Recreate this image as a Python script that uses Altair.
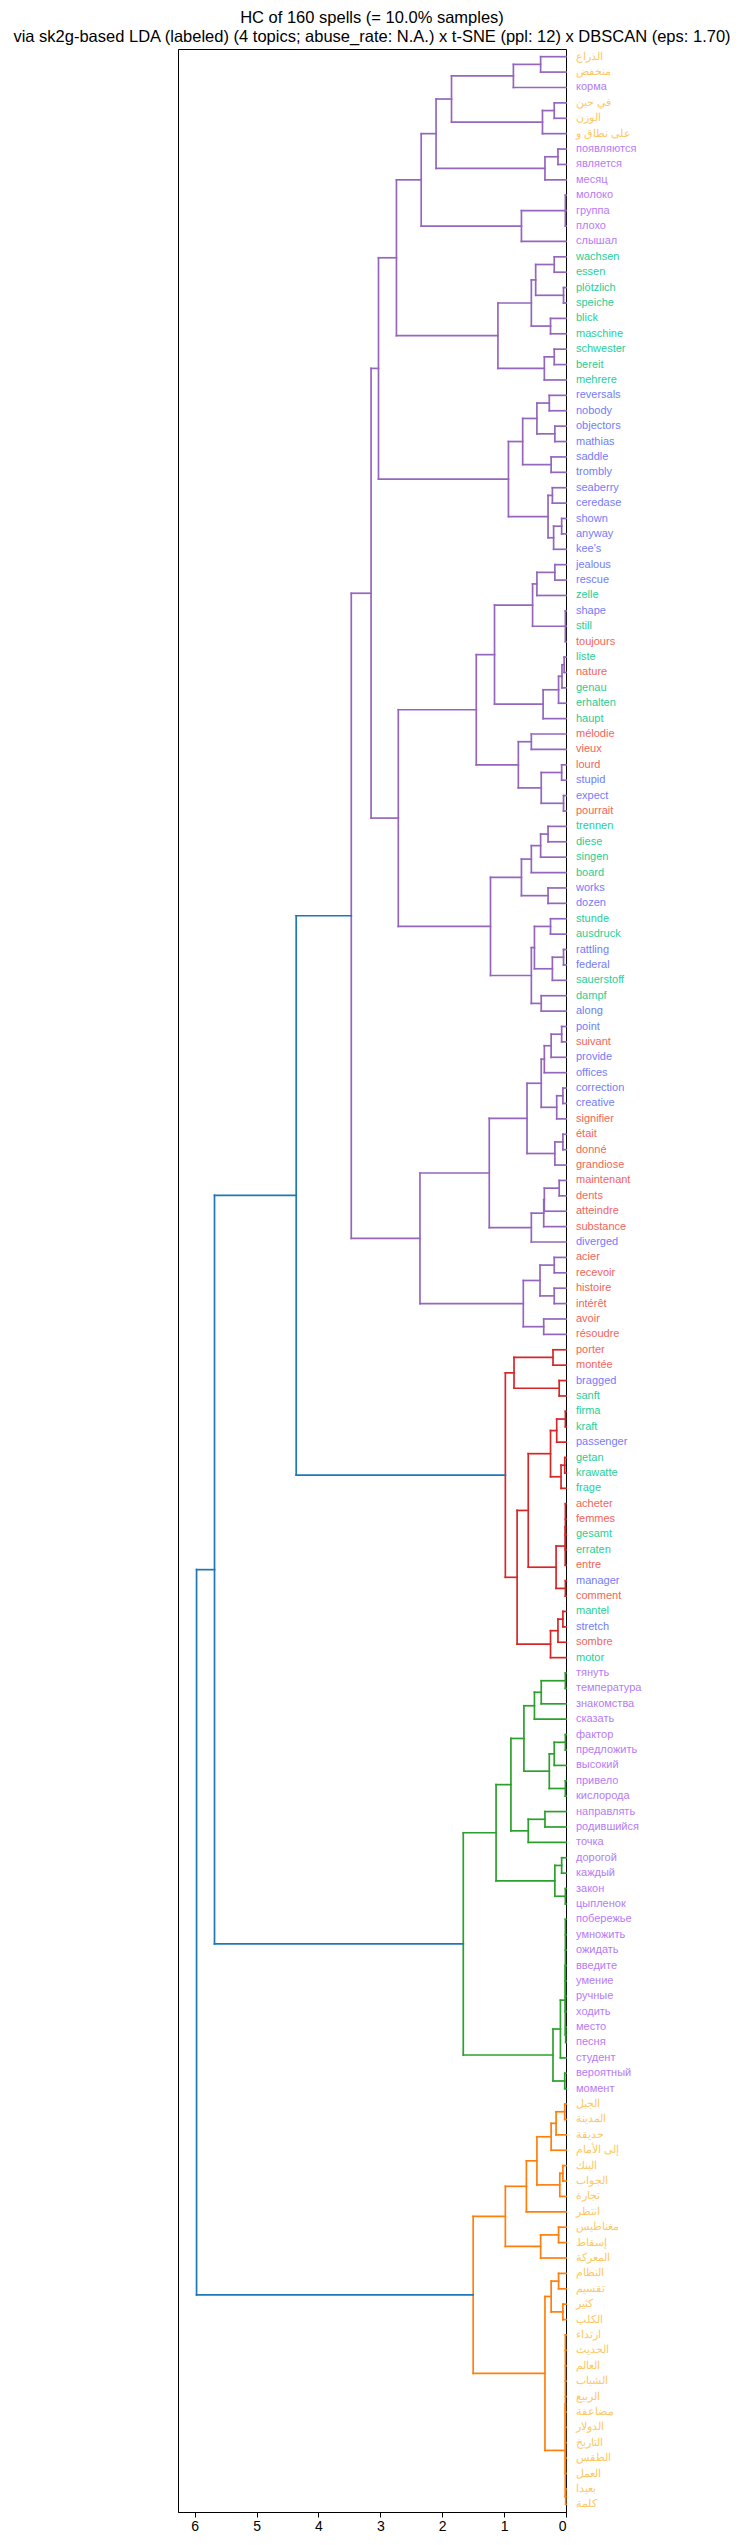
import altair as alt
import pandas as pd

TITLE = ["HC of 160 spells (= 10.0% samples)",
         "via sk2g-based LDA (labeled) (4 topics; abuse_rate: N.A.) x t-SNE (ppl: 12) x DBSCAN (eps: 1.70)"]

# leaf labels, top to bottom
LABELS = [
    "الذراع", "منخفض", "корма", "في حين", "الوزن", "على نطاق و",
    "появляются", "является", "месяц", "молоко", "группа", "плохо", "слышал",
    "wachsen", "essen", "plötzlich", "speiche", "blick", "maschine", "schwester", "bereit", "mehrere",
    "reversals", "nobody", "objectors", "mathias", "saddle", "trombly", "seaberry", "ceredase", "shown", "anyway", "kee's",
    "jealous", "rescue", "zelle", "shape", "still", "toujours", "liste", "nature", "genau", "erhalten", "haupt",
    "mélodie", "vieux", "lourd", "stupid", "expect", "pourrait",
    "trennen", "diese", "singen", "board", "works", "dozen", "stunde", "ausdruck", "rattling", "federal", "sauerstoff", "dampf", "along",
    "point", "suivant", "provide", "offices", "correction", "creative", "signifier", "était", "donné", "grandiose",
    "maintenant", "dents", "atteindre", "substance", "diverged",
    "acier", "recevoir", "histoire", "intérêt", "avoir", "résoudre",
    "porter", "montée", "bragged", "sanft", "firma", "kraft", "passenger", "getan", "krawatte", "frage",
    "acheter", "femmes", "gesamt", "erraten", "entre", "manager", "comment", "mantel", "stretch", "sombre", "motor",
    "тянуть", "температура", "знакомства", "сказать", "фактор", "предложить", "высокий", "привело", "кислорода",
    "направлять", "родившийся", "точка", "дорогой", "каждый", "закон", "цыпленок",
    "побережье", "умножить", "ожидать", "введите", "умение", "ручные", "ходить", "место", "песня", "студент", "вероятный", "момент",
    "الجبل", "المدينة", "حديقة", "إلى الأمام", "البنك", "الجواب", "تجارة", "انتظر", "مغناطيس", "إسقاط", "المعركة",
    "النظام", "تقسيم", "كثير", "الكلب", "ارتداء", "الحديث", "العالم", "الشباب", "الربيع", "مضاعفة", "الدولار", "التاريخ", "الطقس", "العمل", "بعيدا", "كلمة",
]

LANGS = (["ar", "ar", "ru", "ar", "ar", "ar"] + ["ru"] * 7 + ["de"] * 9 + ["en"] * 11
         + ["en", "en", "de", "en", "de", "fr", "de", "fr", "de", "de", "de"]
         + ["fr", "fr", "fr", "en", "en", "fr"]
         + ["de", "de", "de", "de", "en", "en", "de", "de", "en", "en", "de", "de", "en"]
         + ["en", "fr", "en", "en", "en", "en", "fr", "fr", "fr", "fr"]
         + ["fr", "fr", "fr", "fr", "en"]
         + ["fr"] * 6
         + ["fr", "fr", "en", "de", "de", "de", "en", "de", "de", "de"]
         + ["fr", "fr", "de", "de", "fr", "en", "fr", "de", "en", "fr", "de"]
         + ["ru"] * 28 + ["ar"] * 27)

LANG_COLORS = {"ar": "#fdc864", "ru": "#b57bf7", "de": "#1fcf98", "en": "#737cfa", "fr": "#f4645a"}

# cluster colours (matplotlib tab10) by first leaf index
CLUSTER_STARTS = [0, 84, 105, 133]
CLUSTER_COLORS = ["#9467bd", "#d62728", "#2ca02c", "#ff7f0e"]
ABOVE_COLOR = "#1f77b4"
THRESHOLD = 4.0

# tree: [merge distance, child, child, ...]; integers are leaf indices (top to bottom)
P1 = [1.85, [0.85, [0.41, 0, 1], 2], [0.38, [0.19, 3, 4], 5]]
P2 = [2.10, P1, [0.34, [0.13, 6, 7], 8]]
P3 = [2.34, P2, [0.72, [0.01, 9, 10, 11], 12]]
G = [1.10, [0.56, [0.49, [0.19, 13, 14], [0.04, 15, 16]], [0.25, 17, 18]], [0.35, [0.19, 19, 20], 21]]
P4 = [2.74, P3, G]
E = [0.93, [0.70, [0.47, [0.27, 22, 23], [0.18, 24, 25]], [0.24, 26, 27]],
     [0.29, [0.22, 28, 29], [0.20, [0.07, 30, 31], 32]]]
P5 = [3.03, P4, E]
I = [1.45, [1.155, [0.54, [0.47, [0.18, 33, 34], 35], [0.01, 36, 37, 38]],
            [0.37, [0.12, [0.065, [0.03, 39, 40], 41], 42], 43]],
     [0.77, [0.56, 44, 45], [0.40, [0.07, 46, 47], [0.04, 48, 49]]]]
J = [1.22, [0.72, [0.56, [0.41, [0.29, 50, 51], 52], 53], [0.29, 54, 55]],
     [0.56, [0.51, [0.25, 56, 57], [0.22, [0.04, 58, 59], 60]], [0.40, 61, 62]]]
P6 = [2.71, I, J]
P7 = [3.15, P5, P6]
K = [1.24, [0.63, [0.40, [0.35, [0.24, [0.07, 63, 64], 65], 66], [0.15, [0.05, 67, 68], 69]],
            [0.18, [0.05, 70, 71], 72]],
     [0.56, [0.36, [0.35, [0.11, 73, 74], 75], 76], 77]]
L = [0.69, [0.42, [0.19, 78, 79], [0.19, 80, 81]], [0.36, 82, 83]]
PURPLE = [3.47, P7, [2.36, K, L]]

RED = [0.98, [0.84, [0.21, 84, 85], [0.11, 86, 87]],
       [0.79, [0.61, [0.25, [0.15, [0.01, 88, 89], 90], [0.08, [0.02, 91, 92], 93]],
               [0.16, [0.012, [0.01, 94, 95, 96, 97], 98], [0.01, 99, 100]]],
        [0.25, [0.13, [0.05, 101, 102], 103], 104]]]

GREEN = [1.66,
         [1.13, [0.89, [0.68, [0.51, [0.40, [0.01, 105, 106], 107], 108],
                        [0.27, [0.19, [0.01, 109, 110], 111], [0.01, 112, 113]]],
                 [0.61, [0.34, 114, 115], 116]],
          [0.18, [0.07, 117, 118], [0.01, 119, 120]]],
         [0.21, [0.09, [0.012, [0.01, 121, 122, 123, 124, 125, 126, 127], [0.005, 128, 129]], 130],
          [0.02, 131, 132]]]

ORANGE = [1.50,
          [0.98, [0.64, [0.47, [0.24, [0.16, [0.02, 133, 134], 135], 136], [0.10, [0.05, 137, 138], 139]], 140],
           [0.41, [0.12, 141, 142], 143]],
          [0.34, [0.24, [0.12, 144, 145], [0.05, 146, 147]],
           [0.012, [0.01, 148, 149, 150, 151, 152, 153, 154, 155, 156, 157], [0.005, 158, 159]]]]

ROOT = [5.97, [5.68, [4.36, PURPLE, RED], GREEN], ORANGE]

XMAX = 6.27
YMAX = 10 * len(LABELS)
X_TICKS = [0, 1, 2, 3, 4, 5, 6]


def cluster_color(leaf):
    col = CLUSTER_COLORS[0]
    for s, c in zip(CLUSTER_STARTS, CLUSTER_COLORS):
        if leaf >= s:
            col = c
    return col


rows = []


def build(node):
    if isinstance(node, int):
        return 5 + 10 * node, 0.0, node
    h = node[0]
    kids = [build(c) for c in node[1:]]
    first = kids[0][2]
    color = ABOVE_COLOR if h > THRESHOLD else cluster_color(first)
    ys = [k[0] for k in kids]
    rows.append({"x": h, "x2": h, "y": min(ys), "y2": max(ys), "c": color})
    for ky, kh, _ in kids:
        rows.append({"x": kh, "x2": h, "y": ky, "y2": ky, "c": color})
    return sum(ys) / len(ys), h, first


build(ROOT)
seg = pd.DataFrame(rows)

leaf = pd.DataFrame({
    "y": [5 + 10 * i for i in range(len(LABELS))],
    "label": LABELS,
    "color": [LANG_COLORS[l] for l in LANGS],
    "x": [0.0] * len(LABELS),
})

xs = alt.Scale(domain=[0, XMAX], reverse=True, nice=False, zero=False)
ys = alt.Scale(domain=[0, YMAX], reverse=True, nice=False, zero=False)

x_axis = alt.Axis(values=X_TICKS, format="d", title=None, grid=False,
                  tickSize=5, tickColor="black", tickWidth=1, domainColor="black", domainWidth=1,
                  labelFontSize=14, labelColor="black", labelPadding=2,
                  labelFont="Liberation Sans")

rules = alt.Chart(seg).mark_rule(strokeWidth=1.7, strokeCap="square").encode(
    x=alt.X("x:Q", scale=xs, axis=x_axis),
    x2="x2:Q",
    y=alt.Y("y:Q", scale=ys, axis=None),
    y2="y2:Q",
    color=alt.Color("c:N", scale=None),
)

texts = alt.Chart(leaf).mark_text(align="left", baseline="middle", dx=10, fontSize=11,
                                  font="Liberation Sans").encode(
    x=alt.X("x:Q", scale=xs, axis=x_axis),
    y=alt.Y("y:Q", scale=ys, axis=None),
    text="label:N",
    color=alt.Color("color:N", scale=None),
)

chart = alt.layer(rules, texts).properties(
    width=388,
    height=2463,
    padding={"left": 170, "top": 41, "right": 166, "bottom": 22},
    autosize=alt.AutoSizeParams(type="none"),
    title=alt.TitleParams(TITLE, anchor="middle", frame="group", fontSize=16.5, font="Liberation Sans",
                          fontWeight="normal", color="black", offset=4, lineHeight=19),
).configure_view(stroke="black", strokeWidth=1)

chart.save("out.html", embed_options={"renderer": "svg", "actions": False})
